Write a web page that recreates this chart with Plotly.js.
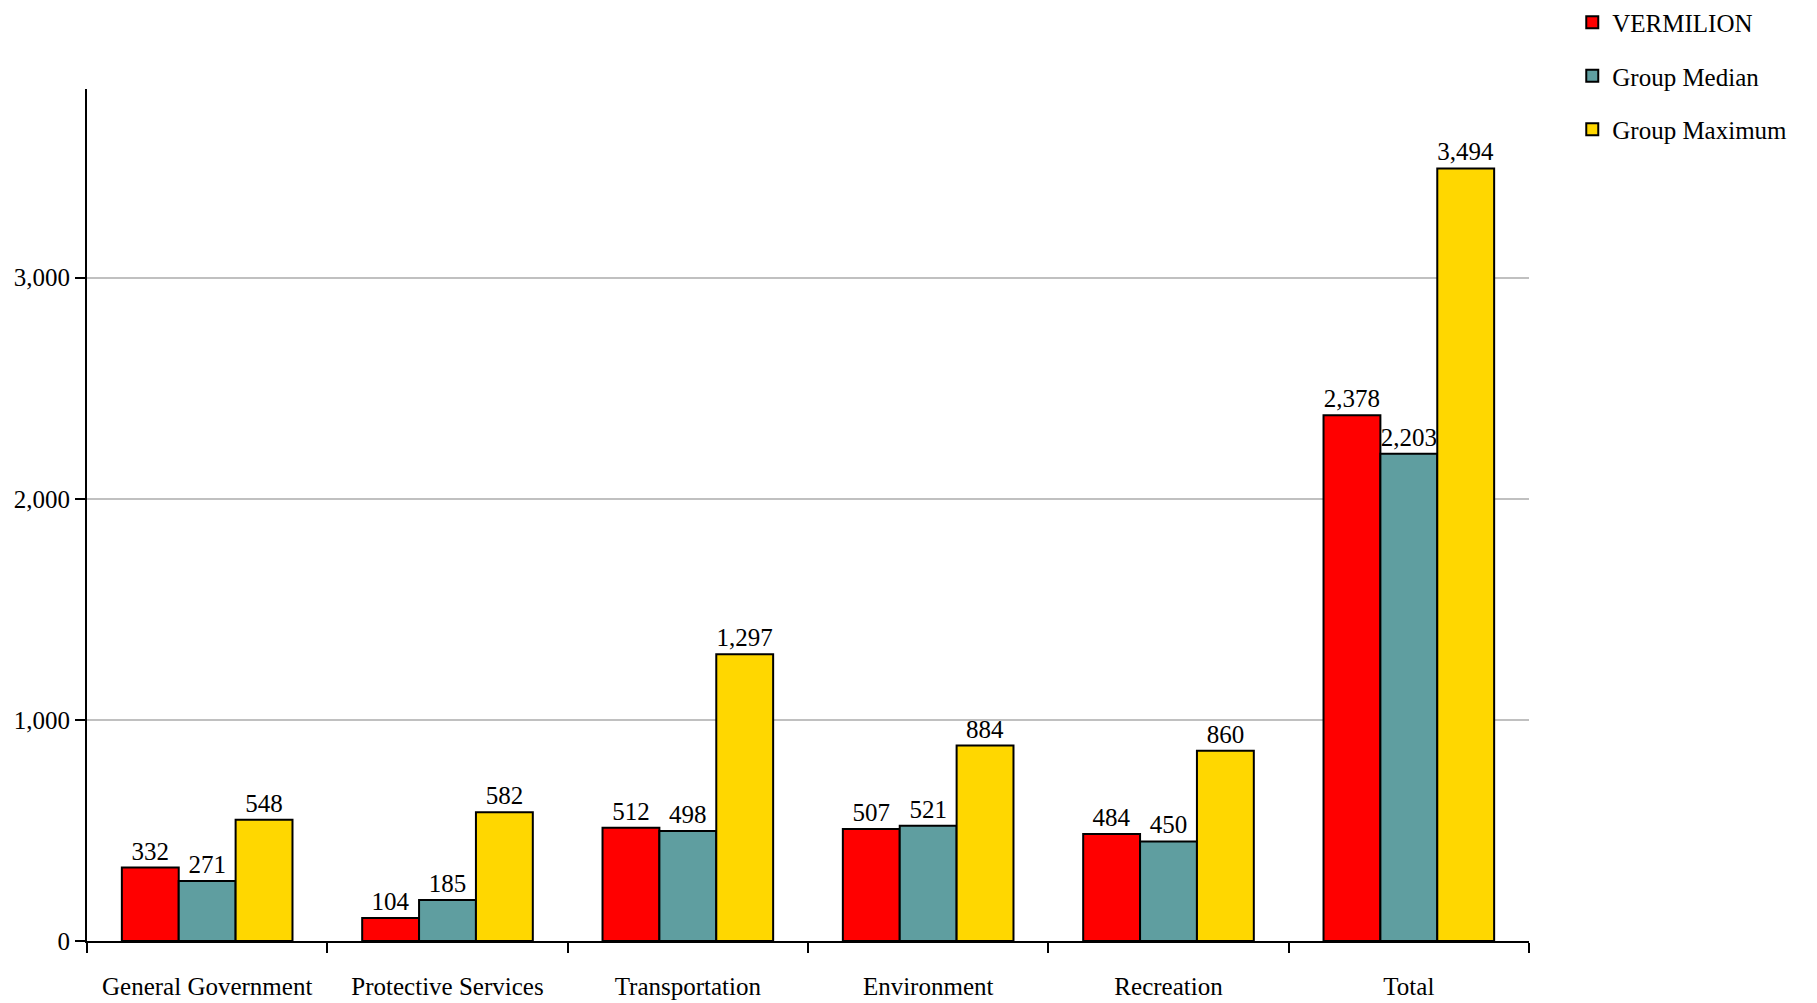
<!DOCTYPE html>
<html><head><script src="https://cdn.plot.ly/plotly-3.0.1.min.js"></script>
<style>body{margin:0}</style></head><body>
<div id="c" style="width:1817px;height:1003px"></div>
<script>
const categories=["General Government","Protective Services","Transportation","Environment","Recreation","Total"];
const vermilion=[332,104,512,507,484,2378];
const groupMedian=[271,185,498,521,450,2203];
const groupMaximum=[548,582,1297,884,860,3494];
const names=["VERMILION","Group Median","Group Maximum"];
const colors=["#ff0000","#5f9ea0","#ffd700"];
const series=[vermilion,groupMedian,groupMaximum];
const fmt=v=>v.toLocaleString('en-US');
const data=series.map((s,i)=>({type:'bar',x:categories,y:s,name:names[i],legendgroup:'g'+i,
 marker:{color:colors[i],line:{color:'#000',width:2}},
 text:s.map(fmt),textposition:'outside',cliponaxis:false,
 textfont:{family:'Liberation Serif',size:25,color:'#000'}}));
Plotly.newPlot('c',data,{
 width:1817,height:1003,
 margin:{l:87,r:288,t:89,b:62,autoexpand:false},
 paper_bgcolor:'#fff',plot_bgcolor:'#fff',
 font:{family:'Liberation Serif',size:25,color:'#000'},
 barmode:'group',bargap:0.29,bargroupgap:0,
 xaxis:{showline:true,linecolor:'#000',linewidth:2,ticks:'outside',tickson:'boundaries',ticklen:10,tickwidth:2,tickcolor:'#000',showgrid:false,
  ticklabelstandoff:22},
 yaxis:{range:[0,3853],showline:true,linecolor:'#000',linewidth:2,ticks:'outside',ticklen:10,tickwidth:2,tickcolor:'#000',
  tickvals:[0,1000,2000,3000],ticktext:['0','1,000','2,000','3,000'],gridcolor:'#c0c0c0',gridwidth:2,zeroline:false},
 showlegend:true,
 legend:{x:1.03,xanchor:'left',y:1.105,yanchor:'top',font:{size:25},itemwidth:30,tracegroupgap:18}
},{displayModeBar:false});
</script></body></html>
